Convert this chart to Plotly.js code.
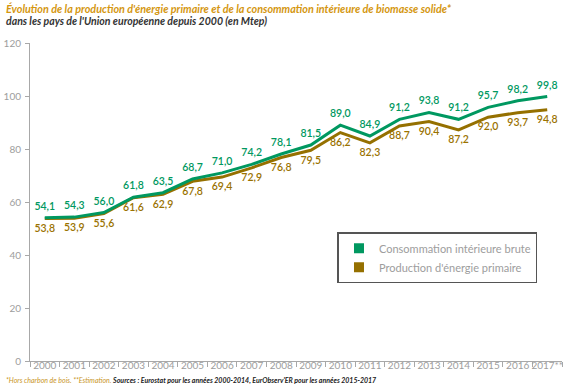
<!DOCTYPE html>
<html>
<head>
<meta charset="utf-8">
<script src="https://cdn.plot.ly/plotly-3.0.1.min.js"></script>
<style>
html,body{margin:0;padding:0;background:#fff;}
#chart{width:575px;height:388px;}
</style>
</head>
<body>
<div id="chart"></div>
<script>
const years = ["2000","2001","2002","2003","2004","2005","2006","2007","2008","2009","2010","2011","2012","2013","2014","2015","2016","2017**"];
const consommation = [54.1,54.3,56.0,61.8,63.5,68.7,71.0,74.2,78.1,81.5,89.0,84.9,91.2,93.8,91.2,95.7,98.2,99.8];
const production = [53.8,53.9,55.6,61.6,62.9,67.8,69.4,72.9,76.8,79.5,86.2,82.3,88.7,90.4,87.2,92.0,93.7,94.8];
const seriesNames = ["Consommation intérieure brute","Production d'énergie primaire"];
const yTicks = [0,20,40,60,80,100,120];

const GREEN = "#009860";
const BROWN = "#957000";
const fmt = v => v.toFixed(1).replace(".", ",");
const FONT = "Lato";

const traces = [
  {
    x: years, y: production, type: "scatter", mode: "lines+markers+text",
    line: {color: BROWN, width: 3},
    marker: {size: 7, opacity: 0, color: BROWN},
    text: production.map(fmt), textposition: "bottom center",
    textfont: {family: FONT, size: 10.5, color: "#9a7200", weight: 600},
    showlegend: false, hoverinfo: "skip", cliponaxis: false
  },
  {
    x: years, y: consommation, type: "scatter", mode: "lines+markers+text",
    line: {color: GREEN, width: 3},
    marker: {size: 7, opacity: 0, color: GREEN},
    text: consommation.map(fmt), textposition: "top center",
    textfont: {family: FONT, size: 10.5, color: GREEN, weight: 600},
    showlegend: false, hoverinfo: "skip", cliponaxis: false
  },
  {
    x: [null], y: [null], type: "scatter", mode: "markers", name: seriesNames[0],
    marker: {symbol: "square", size: 10, color: GREEN}
  },
  {
    x: [null], y: [null], type: "scatter", mode: "markers", name: seriesNames[1],
    marker: {symbol: "square", size: 10, color: BROWN}
  }
];

const layout = {
  width: 575, height: 388,
  margin: {l: 30, r: 13, t: 43, b: 27},
  paper_bgcolor: "#fff", plot_bgcolor: "#fff",
  showlegend: true,
  legend: {
    x: 0.578, y: 0.405, xanchor: "left", yanchor: "top",
    bordercolor: "#555", borderwidth: 1.5, bgcolor: "#fff",
    font: {family: FONT, size: 11, color: "#9d9d9d"},
    tracegroupgap: 0, itemwidth: 30
  },
  xaxis: {
    type: "category", range: [-0.5, 17.5], fixedrange: true,
    showline: true, linecolor: "#a8a8a8", linewidth: 1,
    showgrid: false, zeroline: false,
    ticks: "outside", tickson: "boundaries", ticklen: 5, tickcolor: "#a8a8a8",
    ticklabelstandoff: -5, tickangle: 0,
    tickfont: {family: FONT, size: 10, color: "#9d9d9d"}
  },
  yaxis: {
    range: [0, 120], tickvals: yTicks, ticktext: yTicks.map(String), fixedrange: true,
    showline: true, linecolor: "#a8a8a8", linewidth: 1,
    showgrid: false, zeroline: false,
    ticks: "outside", ticklen: 4, tickcolor: "#a8a8a8",
    ticklabelstandoff: 2,
    tickfont: {family: FONT, size: 10, color: "#9d9d9d"}
  },
  annotations: [
    {
      xref: "paper", yref: "paper", x: -0.049, y: 1.110, xanchor: "left", yanchor: "middle",
      showarrow: false, align: "left",
      text: "<b><i>Évolution de la production d'énergie primaire et de la consommation intérieure de biomasse solide*</i></b>",
      font: {family: FONT, size: 10.8, color: "#d4960f"}
    },
    {
      xref: "paper", yref: "paper", x: -0.049, y: 1.070, xanchor: "left", yanchor: "middle",
      showarrow: false, align: "left",
      text: "<b><i>dans les pays de l'Union européenne depuis 2000 (en Mtep)</i></b>",
      font: {family: FONT, size: 10.5, color: "#333"}
    },
    {
      xref: "paper", yref: "paper", x: -0.049, y: -0.06, xanchor: "left", yanchor: "middle",
      showarrow: false, align: "left",
      text: "<i><span style='color:#c9951f'>*Hors charbon de bois. **Estimation.</span> <b>Sources : Eurostat pour les années 2000-2014, EurObserv'ER pour les années 2015-2017</b></i>",
      font: {family: FONT, size: 7, color: "#222"}
    }
  ]
};

Plotly.newPlot("chart", traces, layout, {displayModeBar: false, staticPlot: true});
</script>
</body>
</html>
